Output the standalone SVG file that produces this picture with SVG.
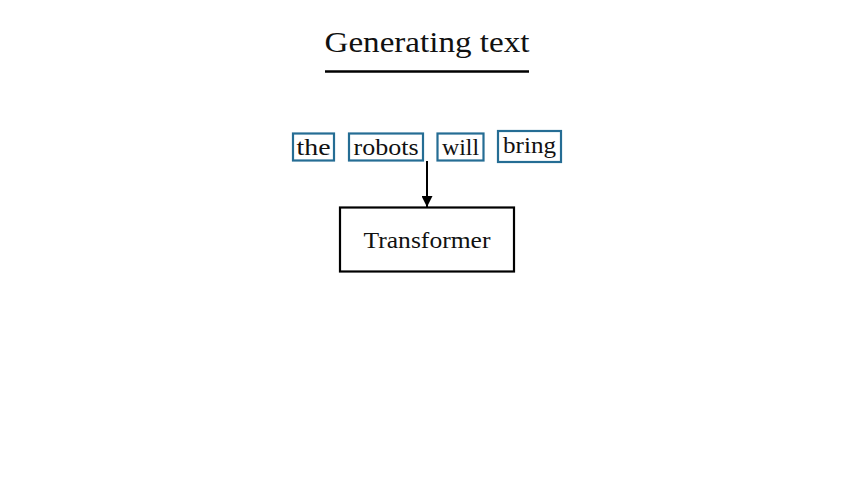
<svg xmlns="http://www.w3.org/2000/svg" width="854" height="480" viewBox="0 0 854 480">
<defs>
<style>
text{font-family:"Liberation Serif","DejaVu Serif",serif;fill:#111;text-anchor:middle}
.tok{fill:#fff;stroke:#256d94;stroke-width:2.2}
.word{font-size:24px}
.box{fill:#fff;stroke:#000;stroke-width:2.2}
.conn{stroke:#000;stroke-width:2;fill:none}
</style>
<marker id="arr" viewBox="0 0 10 10" refX="10" refY="5" markerWidth="5.5" markerHeight="5.5" markerUnits="strokeWidth" orient="auto">
<path d="M0,0 L10,5 L0,10 z" fill="#000"/>
</marker>
</defs>
<rect width="854" height="480" fill="#fff"/>
<g id="title">
<text x="427" y="52" font-size="30" textLength="205" lengthAdjust="spacingAndGlyphs">Generating text</text>
<line x1="325" y1="71.5" x2="529" y2="71.5" stroke="#000" stroke-width="2.5"/>
</g>
<g id="tok-the">
<rect class="tok" x="293" y="133.5" width="41" height="27"/>
<text class="word" x="313.5" y="155" textLength="34" lengthAdjust="spacingAndGlyphs">the</text>
</g>
<g id="tok-robots">
<rect class="tok" x="349" y="133.5" width="74" height="27"/>
<text class="word" x="386" y="155" textLength="65" lengthAdjust="spacingAndGlyphs">robots</text>
</g>
<g id="tok-will">
<rect class="tok" x="437.5" y="133.5" width="46" height="27"/>
<text class="word" x="460.5" y="155" textLength="37" lengthAdjust="spacingAndGlyphs">will</text>
</g>
<g id="tok-bring">
<rect class="tok" x="498" y="131" width="63" height="31"/>
<text class="word" x="529.5" y="153" textLength="53" lengthAdjust="spacingAndGlyphs">bring</text>
</g>
<g id="transformer">
<rect class="box" x="340" y="207.5" width="174" height="64"/>
<text x="427" y="248" font-size="23" textLength="127" lengthAdjust="spacingAndGlyphs">Transformer</text>
</g>
<g id="connectors">
<line class="conn" x1="427" y1="161" x2="427" y2="207" marker-end="url(#arr)"/>
</g>
</svg>
